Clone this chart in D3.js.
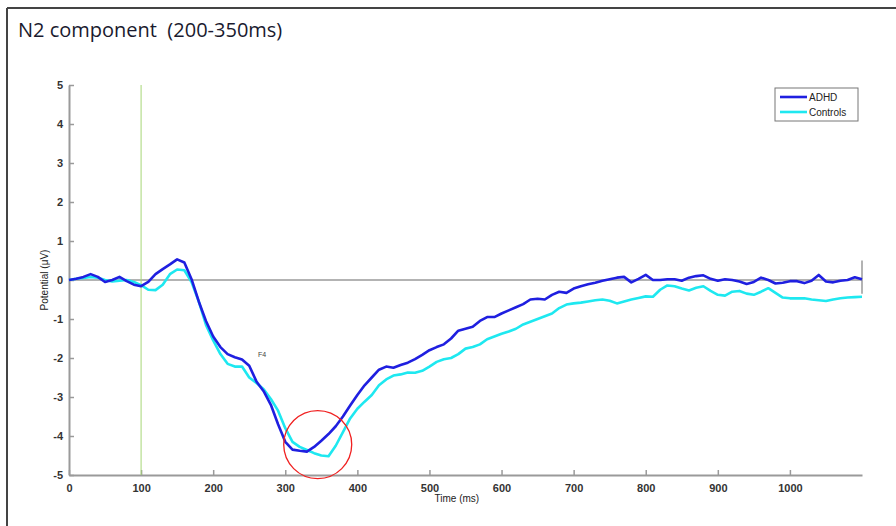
<!DOCTYPE html>
<html>
<head>
<meta charset="utf-8">
<script src="https://cdn.jsdelivr.net/npm/d3@7"></script>
<style>
  body { margin: 0; background: #fff; }
  svg { display: block; }
</style>
</head>
<body>
<svg id="chart"></svg>
<script>
// time axis samples (ms), 10 ms step
const times = d3.range(0, 1101, 10);

const adhd = [
  0.0, 0.03, 0.08, 0.15, 0.08, -0.05, 0.0, 0.08, -0.03, -0.12,
  -0.16, -0.05, 0.15, 0.28, 0.40, 0.53, 0.45, 0.02, -0.55, -1.05,
  -1.45, -1.72, -1.9, -1.98, -2.04, -2.2, -2.6, -2.85, -3.2, -3.7,
  -4.15, -4.35, -4.38, -4.4, -4.28, -4.12, -3.95, -3.75, -3.5, -3.22,
  -2.95, -2.7, -2.5, -2.3, -2.22, -2.25, -2.18, -2.12, -2.03, -1.92,
  -1.8, -1.72, -1.65, -1.5, -1.3, -1.25, -1.2, -1.05, -0.95, -0.95,
  -0.86, -0.78, -0.7, -0.62, -0.5, -0.48, -0.5, -0.38, -0.3, -0.33,
  -0.22, -0.16, -0.11, -0.07, -0.02, 0.02, 0.06, 0.08, -0.06, 0.03,
  0.13, 0.0, 0.0, 0.02, 0.02, -0.02, 0.06, 0.1, 0.12, 0.03,
  -0.02, 0.02, 0.0, -0.04, -0.1, -0.05, 0.06, 0.0, -0.09, -0.07,
  -0.03, -0.03, -0.08, -0.02, 0.13, -0.04, -0.06, -0.02, 0.0, 0.07,
  0.02
];

const controls = [
  0.0, 0.03, 0.05, 0.08, 0.06, 0.0, -0.04, -0.02, 0.0, -0.05,
  -0.13, -0.25, -0.26, -0.12, 0.15, 0.27, 0.25, -0.05, -0.55, -1.15,
  -1.55, -1.9, -2.15, -2.22, -2.22, -2.5, -2.64, -2.8, -3.05, -3.35,
  -3.8, -4.15, -4.28, -4.36, -4.44, -4.5, -4.52, -4.25, -3.9, -3.55,
  -3.3, -3.12, -2.95, -2.7, -2.55, -2.45, -2.42, -2.37, -2.38, -2.33,
  -2.22, -2.1, -2.03, -2.0, -1.9, -1.76, -1.72, -1.65, -1.52, -1.45,
  -1.38, -1.32, -1.25, -1.14, -1.07, -1.0, -0.93, -0.86, -0.72, -0.63,
  -0.6, -0.58, -0.55, -0.52, -0.5, -0.53, -0.6, -0.55, -0.5, -0.46,
  -0.42, -0.43, -0.25, -0.14, -0.16, -0.22, -0.27, -0.2, -0.16, -0.28,
  -0.38, -0.4, -0.3, -0.28, -0.35, -0.38, -0.3, -0.21, -0.33, -0.45,
  -0.47, -0.47, -0.47, -0.5, -0.52, -0.54, -0.5, -0.47, -0.45, -0.44,
  -0.43
];

const seriesNames = ["ADHD", "Controls"];
const xTicks = [0, 100, 200, 300, 400, 500, 600, 700, 800, 900, 1000];
const yTicks = [-5, -4, -3, -2, -1, 0, 1, 2, 3, 4, 5];
const stimulusTime = 100;
const n2Window = { time: 345, value: -4.22 };

const W = 896, H = 526;
const margin = { top: 85, right: 34, bottom: 51, left: 69 };
const width = W - margin.left - margin.right;
const height = H - margin.top - margin.bottom;
const colors = { ADHD: "#1f1fe0", Controls: "#1ee8f0" };
const axisGray = "#9a9a9a";

const svg = d3.select("#chart").attr("width", W).attr("height", H);

// outer frame (top and left edges only)
svg.append("line").attr("x1", 7).attr("x2", W).attr("y1", 8).attr("y2", 8)
    .attr("stroke", "#444").attr("stroke-width", 2);
svg.append("line").attr("x1", 7).attr("x2", 7).attr("y1", 8).attr("y2", H)
    .attr("stroke", "#444").attr("stroke-width", 2);

svg.append("text")
    .attr("x", 18).attr("y", 37)
    .attr("font-family", "'Open Sans', sans-serif")
    .attr("font-size", "20px")
    .attr("fill", "#1a1a2e")
    .style("white-space", "pre")
    .text("N2 component  (200-350ms)");

const g = svg.append("g").attr("transform", `translate(${margin.left},${margin.top})`);

const x = d3.scaleLinear().domain([0, 1100]).range([0, width]);
const y = d3.scaleLinear().domain([-5, 5]).range([height, 0]);

// axes, matlab style: ticks inside
const xAxis = g.append("g")
    .attr("transform", `translate(0,${height})`)
    .call(d3.axisBottom(x).tickValues(xTicks).tickFormat(d => String(d))
        .tickSizeInner(-5).tickSizeOuter(0).tickPadding(9));
const yAxis = g.append("g")
    .call(d3.axisLeft(y).tickValues(yTicks).tickFormat(d => String(d))
        .tickSizeInner(-5).tickSizeOuter(0).tickPadding(6));

[xAxis, yAxis].forEach(a => {
    a.select(".domain").attr("stroke", axisGray).attr("stroke-width", 2);
    a.selectAll(".tick line").attr("stroke", axisGray).attr("stroke-width", 1.5);
    a.selectAll(".tick text")
        .attr("font-family", "'Liberation Sans', Arial, sans-serif")
        .attr("font-size", "11px")
        .attr("font-weight", "bold")
        .attr("fill", "#333");
});

// zero line
g.append("line")
    .attr("x1", x(0)).attr("x2", x(1100))
    .attr("y1", y(0)).attr("y2", y(0))
    .attr("stroke", axisGray).attr("stroke-width", 1.5);
g.append("line")
    .attr("x1", x(1100)).attr("x2", x(1100))
    .attr("y1", y(0.5)).attr("y2", y(-0.35))
    .attr("stroke", axisGray).attr("stroke-width", 1.5);

// stimulus onset
g.append("line")
    .attr("x1", x(stimulusTime)).attr("x2", x(stimulusTime))
    .attr("y1", y(5)).attr("y2", y(-5))
    .attr("stroke", "#a6d675").attr("stroke-width", 1);

const line = d3.line()
    .x((d, i) => x(times[i]))
    .y(d => y(d));

[["Controls", controls], ["ADHD", adhd]].forEach(([name, vals]) => {
    g.append("path")
        .datum(vals)
        .attr("fill", "none")
        .attr("stroke", colors[name])
        .attr("stroke-width", 2.6)
        .attr("stroke-linejoin", "round")
        .attr("d", line);
});

g.append("text")
    .attr("x", x(262)).attr("y", y(-1.97))
    .attr("font-family", "'Liberation Sans', Arial, sans-serif")
    .attr("font-size", "7px")
    .attr("fill", "#444")
    .text("F4");

// highlighted N2 window
g.append("circle")
    .attr("cx", x(n2Window.time)).attr("cy", y(n2Window.value))
    .attr("r", 34)
    .attr("fill", "none")
    .attr("stroke", "#f02020")
    .attr("stroke-width", 1.3);

// axis titles
g.append("text")
    .attr("x", x(538)).attr("y", height + 27)
    .attr("text-anchor", "middle")
    .attr("font-family", "'Liberation Sans', Arial, sans-serif")
    .attr("font-size", "10px")
    .attr("fill", "#222")
    .text("Time (ms)");

g.append("text")
    .attr("transform", `translate(-21,${y(0)}) rotate(-90)`)
    .attr("text-anchor", "middle")
    .attr("font-family", "'Liberation Sans', Arial, sans-serif")
    .attr("font-size", "10px")
    .attr("fill", "#222")
    .text("Potential (\u03BCV)");

// legend
const legend = svg.append("g").attr("transform", "translate(775,88)");
legend.append("rect")
    .attr("width", 83).attr("height", 33)
    .attr("fill", "#fff")
    .attr("stroke", "#777").attr("stroke-width", 1);
seriesNames.forEach((name, i) => {
    const ly = 9 + i * 15;
    legend.append("line")
        .attr("x1", 5).attr("x2", 32).attr("y1", ly).attr("y2", ly)
        .attr("stroke", colors[name]).attr("stroke-width", 2.6);
    legend.append("text")
        .attr("x", 34).attr("y", ly + 4)
        .attr("font-family", "'Liberation Sans', Arial, sans-serif")
        .attr("font-size", "10px")
        .attr("fill", "#222")
        .text(name);
});
</script>
</body>
</html>
